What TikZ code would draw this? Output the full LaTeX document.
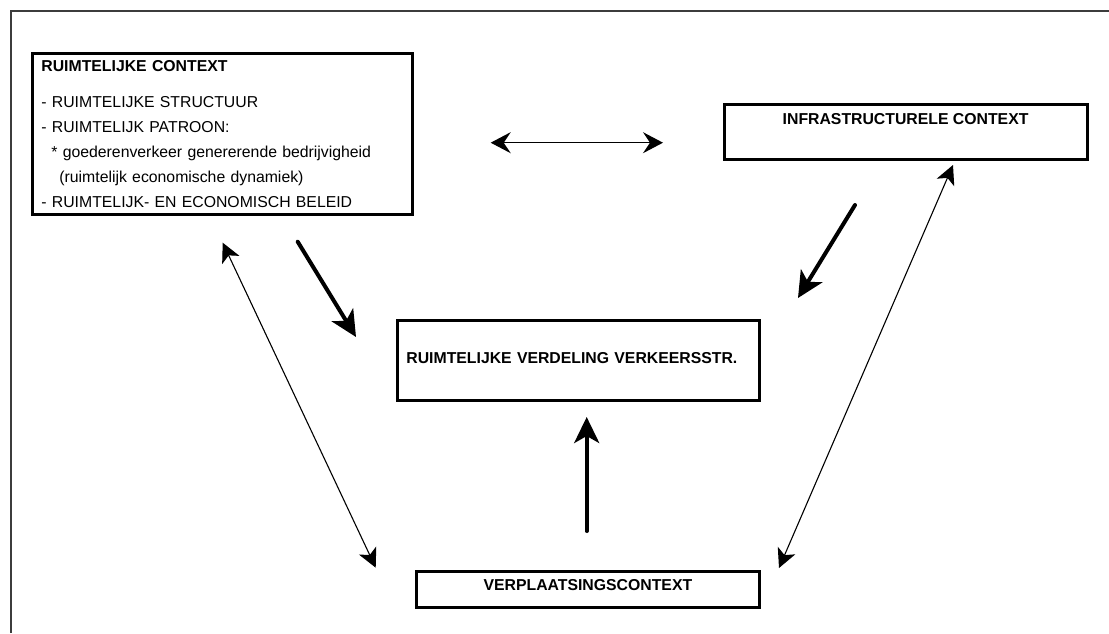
\documentclass[tikz,border=0pt]{standalone}
\usepackage{fontspec}
\setmainfont{Liberation Sans}
\usetikzlibrary{arrows.meta}
\tikzset{
  frameline/.style={draw={rgb,255:red,60;green,60;blue,60}, line width=2pt},
  box/.style={draw, line width=2.8pt, inner sep=0pt, font=\fontsize{15.8}{25}\selectfont},
  boldbox/.style={box, font=\fontsize{15.8}{25}\selectfont\bfseries},
  thinarrow/.style={line width=1.1pt, {Stealth[length=19pt,width=19pt,inset=5pt]}-{Stealth[length=19pt,width=19pt,inset=5pt]}},
  dblarrow/.style={line width=1.4pt, {Stealth[length=20pt,width=21pt,inset=7pt]}-{Stealth[length=20pt,width=21pt,inset=7pt]}},
  thickarrow/.style={line width=4pt, line cap=round, -{Stealth[length=26pt,width=25pt,inset=7pt]}}
}
\begin{document}
\begin{tikzpicture}[x=1pt, y=-1pt]
\useasboundingbox (0,0) rectangle (1109,633);
\fill[white] (0,0) rectangle (1109,633);
% outer frame
\draw[frameline] (10.5,633) -- (10.5,10.5) -- (1109,10.5);

% boxes
\node[box, anchor=north west, text width=362pt, inner xsep=9pt, minimum height=161.6pt, align=left] (ruimte) at (31,51.7)
  {\textbf{RUIMTELIJKE CONTEXT}\\[11pt]
   - RUIMTELIJKE STRUCTUUR\\
   - RUIMTELIJK PATROON:\\
   \hspace*{10pt}* goederenverkeer genererende bedrijvigheid\\
   \hspace*{18pt}(ruimtelijk economische dynamiek)\\
   - RUIMTELIJK- EN ECONOMISCH BELEID};

\node[boldbox, anchor=north west, minimum width=363pt, text height=11.3pt, text depth=26.3pt, inner ysep=9pt] (infra) at (722.7,102.7)
  {INFRASTRUCTURELE CONTEXT};

\node[boldbox, anchor=north west, text width=343.4pt, inner xsep=9.3pt, align=left, text height=11.3pt, text depth=5pt, inner ysep=31.7pt] (verdeling) at (395.7,319)
  {RUIMTELIJKE VERDELING VERKEERSSTR.};

\node[boldbox, anchor=north west, minimum width=343.6pt, text height=11.3pt, text depth=8.1pt, inner ysep=8.3pt] (verplaats) at (414.7,569.7)
  {VERPLAATSINGSCONTEXT};

% arrow end points
\coordinate (dl) at (490.7,142.7);
\coordinate (dr) at (663,142.7);
\coordinate (ta1) at (297.7,241.7);
\coordinate (ta2) at (356,337);
\coordinate (tb1) at (855,205);
\coordinate (tb2) at (798,298);
\coordinate (tu1) at (586.7,531);
\coordinate (tu2) at (586.7,417);
\coordinate (ll1) at (222.7,242.7);
\coordinate (ll2) at (375.7,567.7);
\coordinate (rl1) at (953,165);
\coordinate (rl2) at (779,568);

% arrows
\draw[dblarrow] (dl) -- (dr);
\draw[thickarrow] (ta1) -- (ta2);
\draw[thickarrow] (tb1) -- (tb2);
\draw[thickarrow] (tu1) -- (tu2);
\draw[thinarrow] (ll1) -- (ll2);
\draw[thinarrow] (rl1) -- (rl2);
\end{tikzpicture}
\end{document}
